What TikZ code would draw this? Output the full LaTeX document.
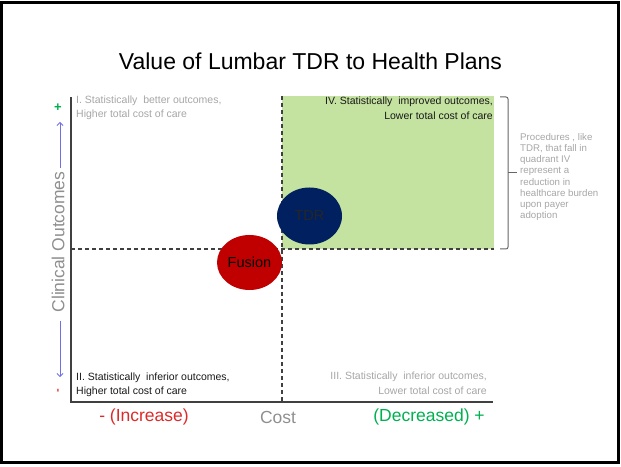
\documentclass[tikz,border=0pt]{standalone}
\usepackage{fontspec}
\setmainfont{Liberation Sans}
\usetikzlibrary{positioning,arrows.meta,shapes.geometric}
\definecolor{navy}{HTML}{002060}
\definecolor{darkred}{HTML}{C00000}
\definecolor{quadGreen}{HTML}{C4E2A0}
\definecolor{plusGreen}{HTML}{00B050}
\definecolor{minusRed}{HTML}{DC2A2A}
\definecolor{softGray}{HTML}{A6A6A6}
\definecolor{midGray}{HTML}{8F8F8F}
\definecolor{axisGray}{HTML}{404040}
\definecolor{arrowBlue}{HTML}{7070E6}

\begin{document}
\begin{tikzpicture}[
    x=1pt, y=1pt,
    every node/.style={font=\fontsize{10.5}{14.5}\selectfont},
    quadText/.style={inner sep=0pt, align=left},
    sideText/.style={inner sep=0pt, align=left, text=softGray, font=\fontsize{9.7}{11.2}\selectfont},
    axisLine/.style={line width=1.5pt, draw=axisGray},
    splitLine/.style={dash pattern=on 4pt off 3pt, line width=2pt, draw=axisGray},
    axisArrow/.style={-{Straight Barb[length=3pt]}, line width=0.8pt, draw=arrowBlue},
    procNode/.style={ellipse, inner sep=0pt, minimum width=65pt, minimum height=57pt, font=\fontsize{14.5}{16}\selectfont},
    bigLabel/.style={font=\fontsize{17.5}{20}\selectfont}
]
    % Cornice
    \useasboundingbox (-71,-64) rectangle (550,402);
    \draw[line width=2.5pt] (-69.5,-60.5) rectangle (547.5,399.5);

    % Titolo
    \node (title) at (239.5,341) {\fontsize{23}{27}\selectfont Value of Lumbar TDR to Health Plans};

    % Quadrante IV evidenziato
    \fill[quadGreen] (211,153) rectangle (423,306);

    % Linee di separazione
    \draw[splitLine] (0,153) -- (423,153);
    \draw[splitLine] (211,306) -- (211,0);

    % Assi
    \coordinate (O) at (0,0);
    \coordinate (yTop) at (0,305);
    \coordinate (xEnd) at (422,0);
    \draw[axisLine] (yTop) -- (O) -- (xEnd);

    % Procedure
    \node[procNode, fill=navy, text=black!85] (tdr) at (238.5,186) {TDR};
    \node[procNode, fill=darkred, text=black, minimum height=55pt] (fusion) at (178.5,139.5) {Fusion};

    % Etichette dei quadranti
    \node[quadText, anchor=west, text=softGray] (qI) at (5,294)
        {I. Statistically~ better outcomes,\\Higher total cost of care};
    \node[quadText, anchor=east, align=right, text=black!90] (qIV) at (422,294)
        {IV. Statistically~ improved outcomes,\\Lower total cost of care};
    \node[quadText, anchor=west, text=black!90] (qII) at (5,17)
        {II. Statistically~ inferior outcomes,\\Higher total cost of care};
    \node[quadText, anchor=east, align=right, text=softGray] (qIII) at (416,19)
        {III. Statistically~ inferior outcomes,\\Lower total cost of care};

    % Parentesi e nota laterale
    \coordinate (brTop) at (429,305);
    \coordinate (brBot) at (429,153);
    \draw[line width=1pt, draw=axisGray!80, rounded corners=2pt]
        (brTop) -- ++(8,0) |- (brBot);
    \coordinate (brMid) at (437,229);
    \draw[line width=1pt, draw=axisGray!80] (brMid) -- ++(9,0);
    \node[sideText, anchor=west] (note) at (449,225)
        {Procedures , like\\TDR, that fall in\\quadrant IV\\represent a\\reduction in\\healthcare burden\\upon payer\\adoption};

    % Asse verticale: esiti clinici
    \node[bigLabel, text=midGray, rotate=90] (yLabel) at (-13,160) {Clinical Outcomes};
    \node[text=plusGreen, font=\bfseries\fontsize{13}{14}\selectfont] (yPlus) at (-13,294) {+};
    \node[text=minusRed, rotate=90, font=\bfseries\fontsize{11}{12}\selectfont] (yMinus) at (-12,11) {-};
    \coordinate (upA) at (-11,234);
    \coordinate (upB) at (-11,280);
    \coordinate (dnA) at (-11,81);
    \coordinate (dnB) at (-11,25);
    \draw[axisArrow] (upA) -- (upB);
    \draw[axisArrow] (dnA) -- (dnB);

    % Asse orizzontale: costo
    \node[bigLabel, text=minusRed] (xMinus) at (73,-15) {- (Increase)};
    \node[bigLabel, text=midGray] (xLabel) at (207,-15) {Cost};
    \node[bigLabel, text=plusGreen] (xPlus) at (358,-15) {(Decreased) +};
\end{tikzpicture}
\end{document}
